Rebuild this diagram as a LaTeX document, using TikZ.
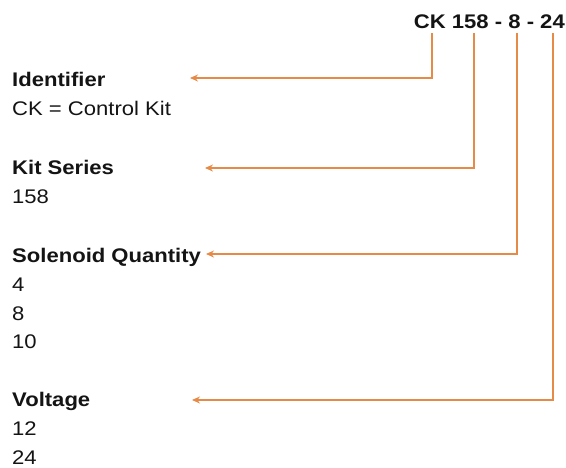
\documentclass[tikz,border=0pt]{standalone}
\usepackage{fontspec}
\setmainfont[FakeStretch=1.12]{Liberation Sans}
\usetikzlibrary{arrows.meta, positioning}
\definecolor{linkc}{RGB}{230,138,72}
\definecolor{textc}{RGB}{20,20,20}

\begin{document}
\begin{tikzpicture}[
    x=1pt, y=-1pt,
    head/.style={anchor=base west, inner sep=0pt, text=textc, font=\fontsize{19.7}{22}\selectfont\bfseries},
    item/.style={anchor=base west, inner sep=0pt, text=textc, font=\fontsize{19.7}{22}\selectfont},
    link/.style={draw=linkc, line width=1.1pt, -{Stealth[length=8pt,width=7pt]}}]
\useasboundingbox (0,0) rectangle (566,467);

\node[head, anchor=base east] (code) at (565,28) {CK 158 - 8 - 24};

\node[head] (ident) at (12,86) {Identifier};
\node[item] (identv) at (12,115) {CK = Control Kit};
\node[head] (kit) at (12,174) {Kit Series};
\node[item] (kitv) at (12,203) {158};
\node[head] (sol) at (12,262) {Solenoid Quantity};
\node[item] (solva) at (12,291) {4};
\node[item] (solvb) at (12,320) {8};
\node[item] (solvc) at (12,348) {10};
\node[head] (volt) at (12,406) {Voltage};
\node[item] (volta) at (12,435) {12};
\node[item] (voltb) at (12,464) {24};

% start points under the code parts, tips beside the headings
\coordinate (ck) at (432,33);
\coordinate (series) at (474,33);
\coordinate (qty) at (517,33);
\coordinate (vlt) at (553,33);
\coordinate (ident-tip) at (190,78);
\coordinate (kit-tip) at (205,168);
\coordinate (sol-tip) at (206,254);
\coordinate (volt-tip) at (192,400);

\draw[link] (ck) |- (ident-tip);
\draw[link] (series) |- (kit-tip);
\draw[link] (qty) |- (sol-tip);
\draw[link] (vlt) |- (volt-tip);
\end{tikzpicture}
\end{document}
